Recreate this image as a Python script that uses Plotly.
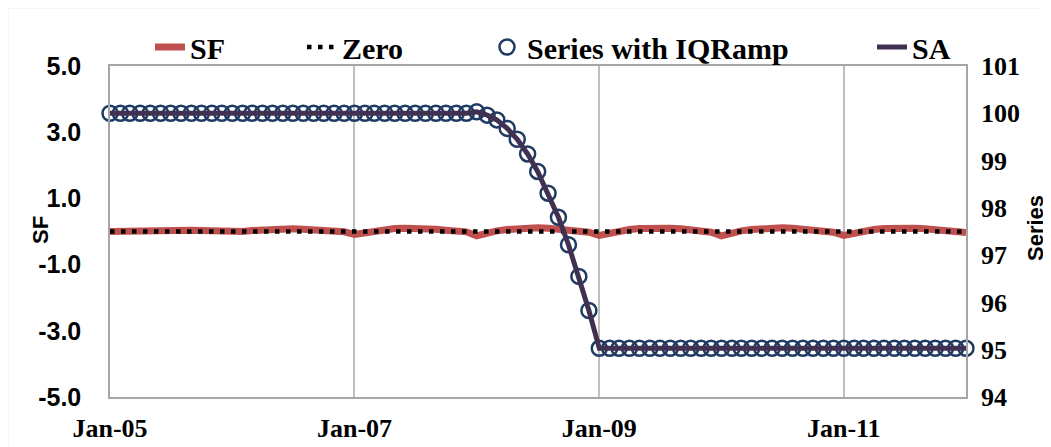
import pandas as pd
import plotly.graph_objects as go

# ---------------- data ----------------
months = pd.date_range("2005-01-01", "2012-01-01", freq="MS")  # Jan-05 .. Jan-12

sf_2005 = [0.00, 0.01, 0.03, 0.04, 0.05, 0.06, 0.06, 0.05, 0.04, 0.03, 0.02, 0.01]
sf_2006 = [-0.03, 0.00, 0.03, 0.05, 0.07, 0.08, 0.08, 0.07, 0.05, 0.03, 0.01, -0.01]
sf_2007 = [-0.09, -0.03, 0.02, 0.06, 0.09, 0.10, 0.10, 0.09, 0.07, 0.04, 0.02, -0.01]
sf_2008 = [-0.13, -0.04, 0.02, 0.06, 0.09, 0.11, 0.11, 0.10, 0.08, 0.05, 0.02, -0.02]
sf_2009 = [-0.12, -0.04, 0.02, 0.06, 0.09, 0.11, 0.11, 0.10, 0.08, 0.05, 0.02, -0.02]
sf_2010 = [-0.13, -0.04, 0.02, 0.06, 0.09, 0.11, 0.11, 0.10, 0.08, 0.05, 0.02, -0.02]
sf_2011 = [-0.12, -0.04, 0.02, 0.06, 0.09, 0.11, 0.11, 0.10, 0.08, 0.05, 0.02, -0.01]
sf_2012 = [-0.03]
sf = sf_2005 + sf_2006 + sf_2007 + sf_2008 + sf_2009 + sf_2010 + sf_2011 + sf_2012

zero = [0.0] * len(months)

ser_2005 = [100.0, 100.0, 100.0, 100.0, 100.0, 100.0, 100.0, 100.0, 100.0, 100.0, 100.0, 100.0]
ser_2006 = [100.0, 100.0, 100.0, 100.0, 100.0, 100.0, 100.0, 100.0, 100.0, 100.0, 100.0, 100.0]
ser_2007 = [100.0, 100.0, 100.0, 100.0, 100.0, 100.0, 100.0, 100.0, 100.0, 100.0, 100.0, 100.0]
ser_2008 = [100.03, 99.96, 99.86, 99.68, 99.45, 99.14, 98.77, 98.31, 97.80, 97.22, 96.55, 95.83]
ser_2009 = [95.03, 95.03, 95.03, 95.03, 95.03, 95.03, 95.03, 95.03, 95.03, 95.03, 95.03, 95.03]
ser_2010 = [95.03, 95.03, 95.03, 95.03, 95.03, 95.03, 95.03, 95.03, 95.03, 95.03, 95.03, 95.03]
ser_2011 = [95.03, 95.03, 95.03, 95.03, 95.03, 95.03, 95.03, 95.03, 95.03, 95.03, 95.03, 95.03]
ser_2012 = [95.03]
series_iqramp = ser_2005 + ser_2006 + ser_2007 + ser_2008 + ser_2009 + ser_2010 + ser_2011 + ser_2012

sa = list(series_iqramp)

sf_tickvals = [-5, -3, -1, 1, 3, 5]
sf_ticktext = ["-5.0", "-3.0", "-1.0", "1.0", "3.0", "5.0"]

# ---------------- layout constants ----------------
# the page body adds an 8 px offset; positions below are in screen pixels
OFF = 8
W, H = 1051, 447
ML, MR, MT, MB = 110 - OFF, W - (966 - OFF), 66 - OFF, H - (397 - OFF)
PW, PH = W - ML - MR, H - MT - MB


def px_x(p):
    return (p - OFF - ML) / PW


def px_y(p):
    return 1 + (MT - (p - OFF)) / PH


serif = "Liberation Serif"
sans = "Liberation Sans"

fig = go.Figure()

fig.add_trace(go.Scatter(
    x=months, y=sf, name="SF", mode="lines",
    line=dict(color="#C0504D", width=7), legend="legend",
))
fig.add_trace(go.Scatter(
    x=months, y=zero, name="Zero", mode="lines",
    line=dict(color="#000000", width=4.5, dash="4.5px,6.5px"), legend="legend2",
))
fig.add_trace(go.Scatter(
    x=months, y=series_iqramp, name="Series with IQRamp", mode="markers",
    marker=dict(symbol="circle-open", size=15, color="#1F3B64",
                line=dict(width=2.5, color="#1F3B64")),
    yaxis="y2", cliponaxis=False, legend="legend3",
))
fig.add_trace(go.Scatter(
    x=months, y=sa, name="SA", mode="lines",
    line=dict(color="#403152", width=5), yaxis="y2", legend="legend4",
))

leg_common = dict(orientation="h", yanchor="middle", y=px_y(47), xanchor="left",
                  bgcolor="rgba(0,0,0,0)", borderwidth=0,
                  font=dict(family=serif, size=30, color="#000000", weight="bold"))

fig.update_layout(
    width=W, height=H,
    margin=dict(l=ML, r=MR, t=MT, b=MB, autoexpand=False),
    paper_bgcolor="white", plot_bgcolor="white",
    showlegend=True,
    legend=dict(x=px_x(150), **leg_common),
    legend2=dict(x=px_x(302), **leg_common),
    legend3=dict(x=px_x(487), **leg_common),
    legend4=dict(x=px_x(872), **leg_common),
    xaxis=dict(
        type="date", range=["2005-01-01", "2012-01-01"],
        tick0="2005-01-01", dtick="M24", tickformat="%b-%y",
        showgrid=True, gridcolor="#BFBFBF", gridwidth=1.5,
        showline=True, linecolor="#A6A6A6", linewidth=1.5, mirror=True,
        ticks="", ticklabelstandoff=7, zeroline=False, automargin=False,
        tickfont=dict(family=serif, size=26, color="#000000", weight="bold"),
    ),
    yaxis=dict(
        range=[-5, 5], tickmode="array", tickvals=sf_tickvals, ticktext=sf_ticktext,
        showgrid=False, zeroline=False, automargin=False,
        showline=True, linecolor="#A6A6A6", linewidth=1.5, mirror=True,
        ticks="", ticklabelstandoff=22,
        tickfont=dict(family=sans, size=25, color="#000000", weight="bold"),
    ),
    yaxis2=dict(
        range=[94, 101], tick0=94, dtick=1, overlaying="y", side="right",
        showgrid=False, zeroline=False, showline=False, automargin=False,
        ticks="", ticklabelstandoff=14,
        tickfont=dict(family=serif, size=26, color="#000000", weight="bold"),
    ),
    shapes=[dict(type="rect", xref="paper", yref="paper",
                 x0=px_x(7.5), x1=px_x(1070), y0=px_y(470), y1=px_y(7.5),
                 line=dict(color="#D9D9D9", width=1.5), layer="below")],
    annotations=[
        dict(text="SF", xref="paper", yref="paper", x=px_x(40), y=px_y(230),
             textangle=-90, showarrow=False, xanchor="center", yanchor="middle",
             font=dict(family=sans, size=22, color="#000000", weight="bold")),
        dict(text="Series", xref="paper", yref="paper", x=px_x(1036), y=px_y(228),
             textangle=-90, showarrow=False, xanchor="center", yanchor="middle",
             font=dict(family=sans, size=22, color="#000000", weight="bold")),
    ],
)

fig.write_html("out.html")
